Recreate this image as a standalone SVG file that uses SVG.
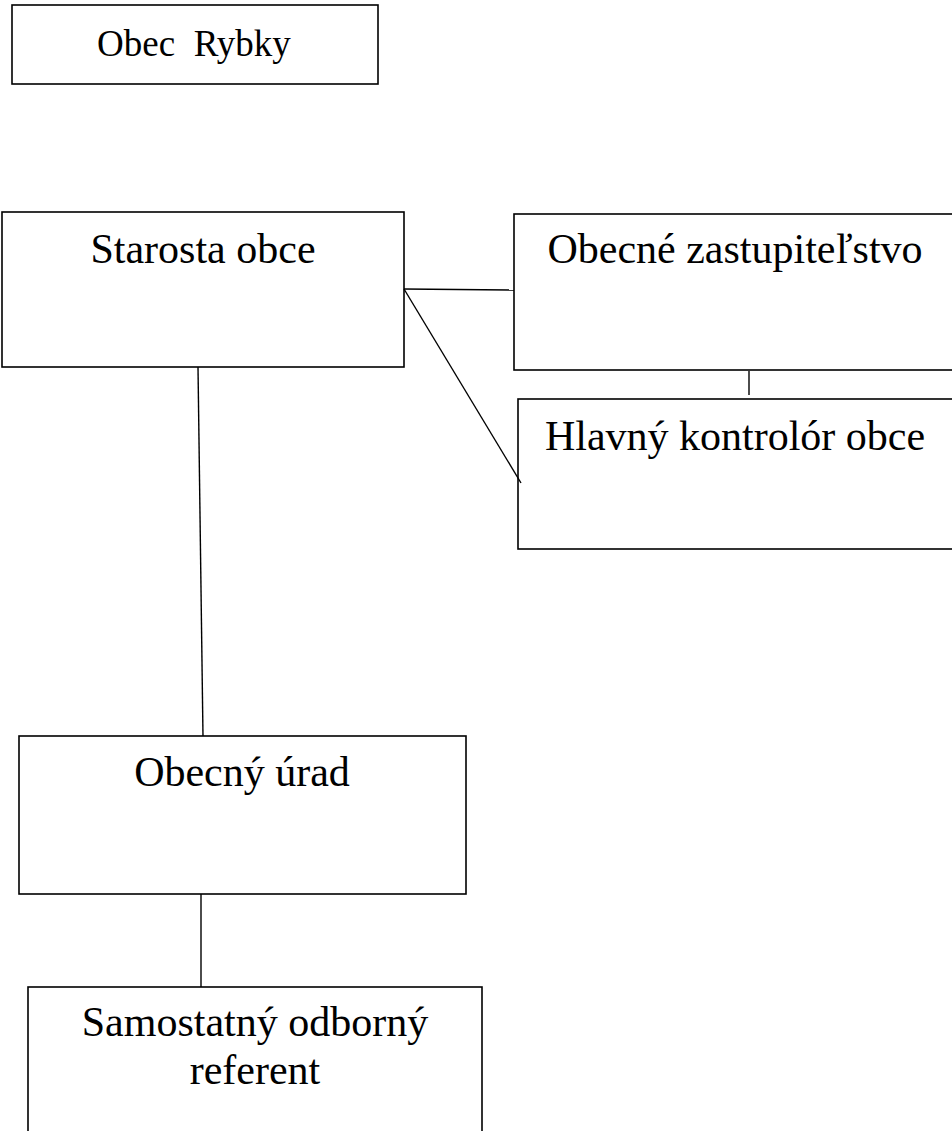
<svg xmlns="http://www.w3.org/2000/svg" width="952" height="1131" viewBox="0 0 952 1131">
<style>
.box{fill:#fff;stroke:#000;stroke-width:1.6}
.lbl{font-family:"Liberation Serif","Times New Roman",serif;font-size:42px;fill:#000;text-anchor:middle}
.small{font-size:37px}
.conn line{stroke:#000;stroke-width:1.4}
</style>
<rect width="952" height="1131" fill="#fff"/>
<g id="obec-rybky">
<rect class="box" x="12" y="5" width="366" height="79"/>
<text class="lbl small" x="194" y="56" xml:space="preserve">Obec  Rybky</text>
</g>
<g id="starosta">
<rect class="box" x="2" y="212" width="402" height="155"/>
<text class="lbl" x="203" y="263">Starosta obce</text>
</g>
<g id="zastupitelstvo">
<rect class="box" x="514" y="214" width="450" height="156"/>
<text class="lbl" x="735" y="263">Obecné zastupiteľstvo</text>
</g>
<g id="kontrolor">
<rect class="box" x="518" y="399" width="450" height="150"/>
<text class="lbl" x="735" y="450">Hlavný kontrolór obce</text>
</g>
<g id="urad">
<rect class="box" x="19" y="736" width="447" height="158"/>
<text class="lbl" x="242" y="786">Obecný úrad</text>
</g>
<g id="referent">
<rect class="box" x="28" y="987" width="454" height="160"/>
<text class="lbl" x="255" y="1036">Samostatný odborný</text>
<text class="lbl" x="255" y="1084">referent</text>
</g>
<g id="connectors" class="conn">
<line x1="404" y1="289" x2="514" y2="290"/>
<line x1="404" y1="289" x2="521" y2="483"/>
<line x1="749" y1="371" x2="749" y2="395"/>
<line x1="198" y1="367" x2="203" y2="736"/>
<line x1="201" y1="894" x2="201" y2="987"/>
</g>
</svg>
